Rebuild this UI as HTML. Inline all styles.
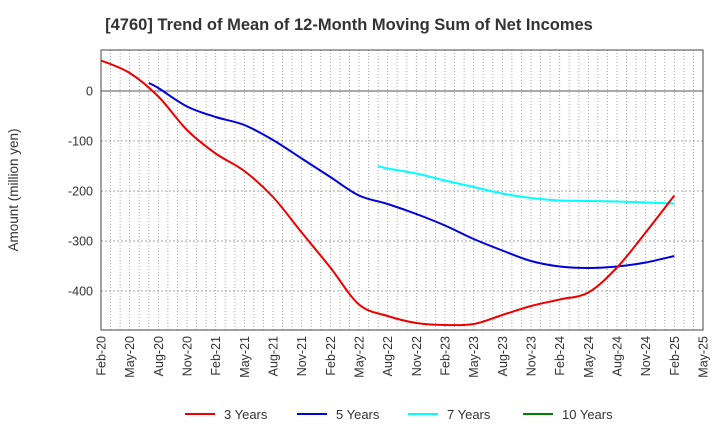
<!DOCTYPE html>
<html><head><meta charset="utf-8"><style>
body{margin:0;background:#fff;font-family:"Liberation Sans",sans-serif}
</style></head><body>
<svg width="720" height="440" xmlns="http://www.w3.org/2000/svg" font-family="Liberation Sans, sans-serif">
<text x="349" y="30" text-anchor="middle" font-size="16.5" font-weight="bold" fill="#333">[4760]  Trend of Mean of 12-Month Moving Sum of Net Incomes</text>
<text transform="translate(18,190) rotate(-90)" text-anchor="middle" font-size="13.5" fill="#333">Amount (million yen)</text>
<g id="grid"></g><g id="axes"></g><g id="series"></g><g id="legend"></g>
</svg>
<script>
const xLabels=["Feb-20","May-20","Aug-20","Nov-20","Feb-21","May-21","Aug-21","Nov-21","Feb-22","May-22","Aug-22","Nov-22","Feb-23","May-23","Aug-23","Nov-23","Feb-24","May-24","Aug-24","Nov-24","Feb-25","May-25"];
const yTicks=[0,-100,-200,-300,-400];
const s3Months=[0,3,6,9,12,15,18,21,24,27,30,33,36,39,42,45,48,51,54,57,60];
const s3Values=[61,36,-11,-78,-125,-160,-212,-283,-353,-427,-450,-464,-468,-466,-448,-430,-417,-403,-353,-283,-209];
const s5Months=[5,6,9,12,15,18,21,24,27,30,33,36,39,42,45,48,51,54,57,60];
const s5Values=[16,6,-31,-52,-68,-98,-135,-172,-209,-226,-246,-269,-296,-319,-340,-351,-354,-351,-343,-330];
const s7Months=[29,30,33,36,39,42,45,48,51,54,57,60];
const s7Values=[-150,-155,-165,-179,-192,-205,-214,-219,-220,-221,-223,-225];
const L=101,R=703,T=50,B=330,NM=63;
const xs=m=>L+(R-L)*m/NM;
const ys=v=>91-(v)*0.5;
const NS="http://www.w3.org/2000/svg";
function mk(tag,attrs,parent){const e=document.createElementNS(NS,tag);for(const k in attrs)e.setAttribute(k,attrs[k]);parent.appendChild(e);return e;}
const grid=document.getElementById('grid'),axes=document.getElementById('axes'),series=document.getElementById('series'),legend=document.getElementById('legend');
for(let m=1;m<NM;m++){const l=mk('line',{x1:xs(m),x2:xs(m),y1:T,y2:B,stroke:'#999','stroke-width':0.8,'stroke-dasharray':'1,2'},grid);

}
yTicks.forEach(v=>{const l=mk('line',{x1:L,x2:R,y1:ys(v),y2:ys(v),stroke:v===0?'#555':'#888','stroke-width':v===0?1:0.8,'stroke-dasharray':v===0?'':'2,2'},grid);


const t=mk('text',{x:L-8,y:ys(v)+4.5,'text-anchor':'end','font-size':12.5,fill:'#333'},axes);t.textContent=v;

});
const fr=mk('rect',{x:L,y:T,width:R-L,height:B-T,fill:'none',stroke:'#444','stroke-width':1},axes);


xLabels.forEach((lab,i)=>{const x=xs(i*3);const t=mk('text',{transform:`translate(${x+4.5},${B+6}) rotate(-90)`,'text-anchor':'end','font-size':12.5,fill:'#333'},axes);t.textContent=lab;

});
function path(ms,vs){const p=ms.map((m,i)=>[xs(m),ys(vs[i])]);let d=`M${p[0][0]},${p[0][1]}`;
for(let i=0;i<p.length-1;i++){const p0=p[i-1]||p[i],p1=p[i],p2=p[i+1],p3=p[i+2]||p2;
d+=` C${p1[0]+(p2[0]-p0[0])/6},${p1[1]+(p2[1]-p0[1])/6} ${p2[0]-(p3[0]-p1[0])/6},${p2[1]-(p3[1]-p1[1])/6} ${p2[0]},${p2[1]}`;}return d;}
[[s7Months,s7Values,'#00ffff','series-7-years'],[s5Months,s5Values,'#0000dd','series-5-years'],[s3Months,s3Values,'#ee0000','series-3-years']].forEach(([m,v,c,n])=>{
const p=mk('path',{d:path(m,v),fill:'none',stroke:c,'stroke-width':2},series);

});
[['3 Years','#ee0000',185],['5 Years','#0000dd',297],['7 Years','#00ffff',408],['10 Years','#008000',523]].forEach(([lab,c,x])=>{
const l=mk('line',{x1:x,x2:x+30,y1:414,y2:414,stroke:c,'stroke-width':2},legend);


const t=mk('text',{x:x+39,y:419,'font-size':13,fill:'#333'},legend);t.textContent=lab;

});
</script>
</body></html>
